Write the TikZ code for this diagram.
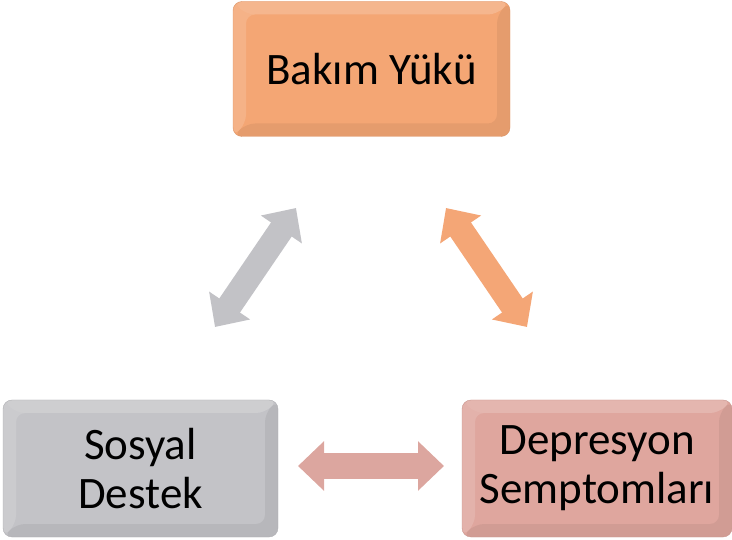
\documentclass[tikz,border=0pt]{standalone}
\usepackage{fontspec}
\setmainfont{Carlito}
\usetikzlibrary{arrows.meta,calc}
\definecolor{orangeF}{HTML}{F4A674}
\definecolor{grayF}{HTML}{C3C3C7}
\definecolor{pinkF}{HTML}{DFA69E}
\definecolor{orangeA}{HTML}{F4A676}
\definecolor{grayA}{HTML}{C2C2C6}
\definecolor{pinkA}{HTML}{DCA69F}
\tikzset{
  box/.style={rounded corners=9pt, inner sep=0pt, outer sep=0pt, align=center,
    font=\fontsize{45}{49}\selectfont, text=black,
    path picture={
      \coordinate (q1) at (path picture bounding box.south west);
      \coordinate (q2) at (path picture bounding box.north west);
      \coordinate (q3) at (path picture bounding box.north east);
      \coordinate (q4) at (path picture bounding box.south east);
      \coordinate (p1) at ($(q1)+(13pt,13pt)$);
      \coordinate (p2) at ($(q2)+(13pt,-13pt)$);
      \coordinate (p3) at ($(q3)+(-13pt,-13pt)$);
      \coordinate (p4) at ($(q4)+(-13pt,13pt)$);
      \fill[white,opacity=.14] (q1) -- (q2) -- (q3) -- (p3) -- (p2) -- (p1) -- cycle;
      \fill[black,opacity=.06] (q1) -- (q4) -- (q3) -- (p3) -- (p4) -- (p1) -- cycle;
      \fill[white,opacity=.06] (q2) -- (q3) -- (p3) -- (p2) -- cycle;
    }},
  dblarrow/.style={line width=25pt,
    {Triangle[width=48pt,length=26pt]}-{Triangle[width=48pt,length=26pt]}}
}
\begin{document}
\begin{tikzpicture}[x=1pt,y=-1pt]
\useasboundingbox (0,0) rectangle (732,540);
\node[box, fill=orangeF, draw=orangeF!90!black, line width=0.4pt, minimum width=277pt, minimum height=135pt] (bk) at (371.5,69) {Bakım Yükü};
\node[box, fill=grayF, draw=grayF!90!black, line width=0.4pt, minimum width=275pt, minimum height=137pt] (sd) at (140.5,468.5) {Sosyal\\Destek};
\node[box, fill=pinkF, draw=pinkF!90!black, line width=0.4pt, minimum width=270pt, minimum height=137pt] (ds) at (597,468.5) {Depresyon\\Semptomları};
\coordinate (g1) at (215,327);
\coordinate (g2) at (296,208);
\coordinate (o1) at (446,208);
\coordinate (o2) at (527,327);
\coordinate (h1) at (298,466);
\coordinate (h2) at (444,466);
\draw[dblarrow, draw=grayA, fill=grayA] (g1) -- (g2);
\draw[dblarrow, draw=orangeA, fill=orangeA] (o1) -- (o2);
\draw[dblarrow, draw=pinkA, fill=pinkA] (h1) -- (h2);
\end{tikzpicture}
\end{document}
